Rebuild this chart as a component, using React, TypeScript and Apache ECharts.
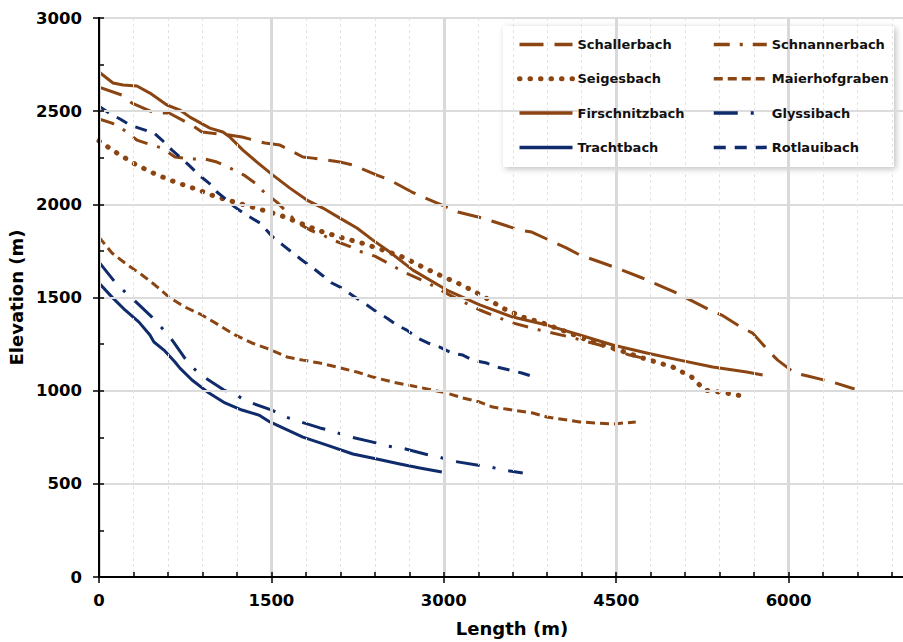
import React, { useEffect, useRef } from "react";
import * as echarts from "echarts";

const BROWN = "#8B4513";
const NAVY = "#0F2B6B";

const seriesNames = [
  "Schallerbach", "Schnannerbach", "Seigesbach", "Maierhofgraben",
  "Firschnitzbach", "Glyssibach", "Trachtbach", "Rotlauibach",
];

const schallerLen = [0, 200, 287, 487, 609, 809, 896, 1130, 1244, 1444, 1574, 1774, 1861, 2096, 2209, 2418, 2530, 2722, 2817, 3026, 3122, 3339, 3444, 3661, 3765, 4070, 4183, 4383, 4505, 4705, 4809, 5009, 5113, 5313, 5418, 5600, 5687, 5835, 5905, 6052, 6166, 6383, 6574];
const schallerElev = [2629, 2586, 2543, 2490, 2490, 2425, 2388, 2372, 2361, 2329, 2318, 2254, 2248, 2227, 2211, 2157, 2130, 2066, 2039, 1985, 1959, 1926, 1905, 1862, 1851, 1765, 1728, 1685, 1658, 1610, 1583, 1529, 1497, 1433, 1406, 1336, 1309, 1207, 1164, 1095, 1079, 1046, 1009];

const schnannerLen = [0, 113, 217, 330, 435, 548, 661, 791, 922, 1026, 1139, 1261, 1357, 1444, 1548, 1644, 1730, 1835, 1948, 2035, 2174, 2287, 2400, 2513, 2635, 2731, 2861, 3052, 3313, 3574, 3835, 4096, 4357, 4618, 4878];
const schnannerElev = [2458, 2436, 2399, 2345, 2323, 2302, 2254, 2243, 2243, 2227, 2195, 2157, 2114, 2061, 2012, 1953, 1900, 1862, 1835, 1808, 1776, 1744, 1722, 1685, 1642, 1615, 1578, 1513, 1433, 1368, 1325, 1288, 1245, 1191, 1154];

const seigesLen = [0, 157, 313, 487, 661, 843, 1026, 1209, 1391, 1574, 1748, 1922, 2096, 2287, 2470, 2644, 2817, 2983, 3157, 3339, 3513, 3687, 3861, 4070, 4244, 4444, 4731, 4991, 5157, 5270, 5461, 5644];
const seigesElev = [2340, 2275, 2216, 2163, 2120, 2082, 2039, 2007, 1975, 1942, 1900, 1857, 1824, 1792, 1755, 1717, 1663, 1615, 1567, 1508, 1443, 1395, 1363, 1315, 1272, 1234, 1175, 1127, 1073, 1003, 987, 966];

const maierLen = [0, 113, 226, 374, 487, 609, 748, 896, 1043, 1183, 1330, 1478, 1635, 1774, 1922, 2070, 2244, 2383, 2557, 2731, 2904, 3026, 3165, 3313, 3426, 3600, 3774, 3896, 4183, 4470, 4670];
const maierElev = [1824, 1739, 1685, 1621, 1567, 1502, 1449, 1406, 1352, 1299, 1256, 1223, 1181, 1164, 1148, 1127, 1100, 1073, 1046, 1025, 1003, 987, 961, 939, 912, 896, 880, 859, 832, 821, 832];

const firschLen = [0, 122, 209, 330, 443, 591, 704, 791, 965, 1078, 1139, 1252, 1374, 1513, 1661, 1809, 1948, 2096, 2244, 2383, 2530, 2731, 3026, 3313, 3600, 3896, 4183, 4470, 4765, 5052, 5339, 5635, 5774];
const firschElev = [2710, 2651, 2640, 2635, 2597, 2533, 2506, 2468, 2409, 2388, 2361, 2291, 2227, 2157, 2087, 2023, 1980, 1926, 1873, 1808, 1744, 1647, 1540, 1460, 1395, 1352, 1299, 1245, 1202, 1164, 1127, 1100, 1084];

const glyssiLen = [0, 139, 217, 304, 461, 539, 617, 739, 809, 913, 1087, 1191, 1304, 1504, 1600, 1704, 1922, 2035, 2148, 2383, 2504, 2635, 2835, 2957, 3078, 3287, 3409, 3522, 3687];
const glyssiElev = [1690, 1583, 1535, 1486, 1395, 1342, 1288, 1181, 1127, 1073, 1003, 977, 939, 896, 864, 842, 800, 783, 757, 724, 703, 692, 660, 644, 622, 601, 590, 574, 558];

const trachtLen = [0, 113, 226, 348, 443, 478, 565, 661, 704, 809, 957, 1096, 1244, 1391, 1487, 1600, 1774, 1983, 2209, 2417, 2618, 2791, 2983];
const trachtElev = [1578, 1502, 1433, 1368, 1299, 1261, 1218, 1154, 1121, 1057, 987, 934, 896, 869, 832, 800, 751, 708, 660, 633, 606, 585, 563];

const rotlauiLen = [0, 87, 183, 270, 374, 478, 548, 635, 704, 791, 870, 957, 1026, 1113, 1183, 1270, 1400, 1513, 1600, 1687, 1765, 1852, 1939, 2026, 2113, 2200, 2331, 2417, 2504, 2591, 2678, 2774, 2861, 2965, 3070, 3165, 3252, 3374, 3461, 3574, 3678, 3791];
const rotlauiElev = [2527, 2490, 2458, 2425, 2404, 2383, 2345, 2291, 2254, 2205, 2157, 2114, 2066, 2023, 1985, 1948, 1900, 1824, 1781, 1739, 1701, 1663, 1621, 1578, 1551, 1513, 1460, 1422, 1390, 1352, 1325, 1282, 1256, 1234, 1202, 1191, 1164, 1148, 1127, 1111, 1095, 1073];

const FONT = "DejaVu Sans";

function zip(xs: number[], ys: number[]) {
  return xs.map((x, i) => [x, ys[i]]);
}

function mk(name: string, xs: number[], ys: number[], color: string, type: any, width = 3, cap: any = "butt") {
  return {
    name,
    type: "line",
    xAxisIndex: 0,
    yAxisIndex: 0,
    data: zip(xs, ys),
    showSymbol: false,
    symbol: "none",
    smooth: false,
    lineStyle: { color, width, type, cap, join: "round" },
    itemStyle: { color },
  };
}

function legendItem(name: string) {
  if (name === "Seigesbach") return { name, lineStyle: { width: 5, cap: "round" } };
  return { name };
}

export default function App() {
  const ref = useRef<HTMLDivElement>(null);
  useEffect(() => {
    if (!ref.current) return;
    const chart = echarts.init(ref.current, undefined, { renderer: "svg" });
    const legendText = { fontFamily: FONT, fontSize: 13, fontWeight: "bold", color: "#111" };
    const plain = (v: number) => String(v);
    chart.setOption({
      animation: false,
      backgroundColor: "#ffffff",
      grid: { left: 99, right: -58, top: 18, bottom: 65, containLabel: false, outerBoundsMode: "none" },
      graphic: [
        {
          type: "rect",
          z: 3,
          shape: { x: 503, y: 26, width: 391, height: 141 },
          style: { fill: "#ffffff", shadowBlur: 6, shadowColor: "rgba(0,0,0,0.25)", shadowOffsetX: 2, shadowOffsetY: 2 },
        },
      ],
      legend: [
        {
          data: [seriesNames[0], seriesNames[2], seriesNames[4], seriesNames[6]].map(legendItem),
          orient: "vertical", left: 512, top: 33, itemWidth: 53, itemHeight: 14, itemGap: 21.3,
          textStyle: legendText, z: 5, itemStyle: { opacity: 0 }, lineStyle: { width: 3.5 },
          selectedMode: false,
        },
        {
          data: [seriesNames[1], seriesNames[3], seriesNames[5], seriesNames[7]].map(legendItem),
          orient: "vertical", left: 707, top: 33, itemWidth: 53, itemHeight: 14, itemGap: 21.3,
          textStyle: legendText, z: 5, itemStyle: { opacity: 0 }, lineStyle: { width: 3.5 },
          selectedMode: false,
        },
      ],
      xAxis: [
        {
          type: "value", min: 0, max: 7500, interval: 1500,
          name: "Length (m)", nameLocation: "middle", nameGap: 42,
          nameTextStyle: { fontFamily: FONT, fontSize: 18, fontWeight: "bold", color: "#000", padding: [0, 36, 0, 0] },
          axisLine: { show: true, onZero: false, lineStyle: { color: "#000", width: 2 } },
          axisTick: { show: true, length: 6, lineStyle: { color: "#000", width: 1.5 } },
          axisLabel: { margin: 15, fontFamily: FONT, fontSize: 16.5, fontWeight: "bold", color: "#000", showMaxLabel: false, formatter: plain },
          splitLine: { show: true, lineStyle: { color: "#d9d9d9", width: 3 } },
          minorTick: { show: false, splitNumber: 5 },
          minorSplitLine: { show: true, lineStyle: { color: "#e3e3e3", width: 1, type: [3, 3] } },
          z: 4,
        },
        {
          type: "value", min: 0, max: 7500, interval: 300, position: "bottom",
          axisLine: { show: false, onZero: false },
          axisTick: { show: true, inside: true, length: 5, lineStyle: { color: "#000", width: 1.5 } },
          axisLabel: { show: false }, splitLine: { show: false },
          z: 4,
        },
        {
          type: "value", min: 0, max: 7500, position: "top",
          axisLine: { show: true, onZero: false, lineStyle: { color: "#000", width: 2 } },
          axisTick: { show: false }, axisLabel: { show: false }, splitLine: { show: false },
        },
      ],
      yAxis: [
        {
          type: "value", min: 0, max: 3000, interval: 500,
          name: "Elevation (m)", nameLocation: "middle", nameGap: 73,
          nameTextStyle: { fontFamily: FONT, fontSize: 18, fontWeight: "bold", color: "#000" },
          axisLine: { show: true, onZero: false, lineStyle: { color: "#000", width: 2 } },
          axisTick: { show: true, length: 6, lineStyle: { color: "#000", width: 1.5 } },
          axisLabel: { margin: 17, fontFamily: FONT, fontSize: 16.5, fontWeight: "bold", color: "#000", formatter: plain },
          splitLine: { show: true, lineStyle: { color: "#dcdcdc", width: 2 } },
          z: 4,
        },
        {
          type: "value", min: 0, max: 3000, interval: 250, position: "left",
          axisLine: { show: false, onZero: false },
          axisTick: { show: true, inside: true, length: 5, lineStyle: { color: "#000", width: 1.5 } },
          axisLabel: { show: false }, splitLine: { show: false },
          z: 4,
        },
      ],
      series: [
        mk(seriesNames[0], schallerLen, schallerElev, BROWN, [24, 11]),
        mk(seriesNames[1], schnannerLen, schnannerElev, BROWN, [16, 10, 3, 10]),
        mk(seriesNames[2], seigesLen, seigesElev, BROWN, [0.5, 10], 5, "round"),
        mk(seriesNames[3], maierLen, maierElev, BROWN, [9, 5]),
        mk(seriesNames[4], firschLen, firschElev, BROWN, "solid"),
        mk(seriesNames[5], glyssiLen, glyssiElev, NAVY, [24, 13, 3, 13]),
        mk(seriesNames[6], trachtLen, trachtElev, NAVY, "solid"),
        mk(seriesNames[7], rotlauiLen, rotlauiElev, NAVY, [12, 9]),
      ],
    });
    return () => chart.dispose();
  }, []);
  return (
    <div
      ref={ref}
      style={{ position: "absolute", left: 0, top: 0, width: 903, height: 642, overflow: "hidden" }}
    />
  );
}
